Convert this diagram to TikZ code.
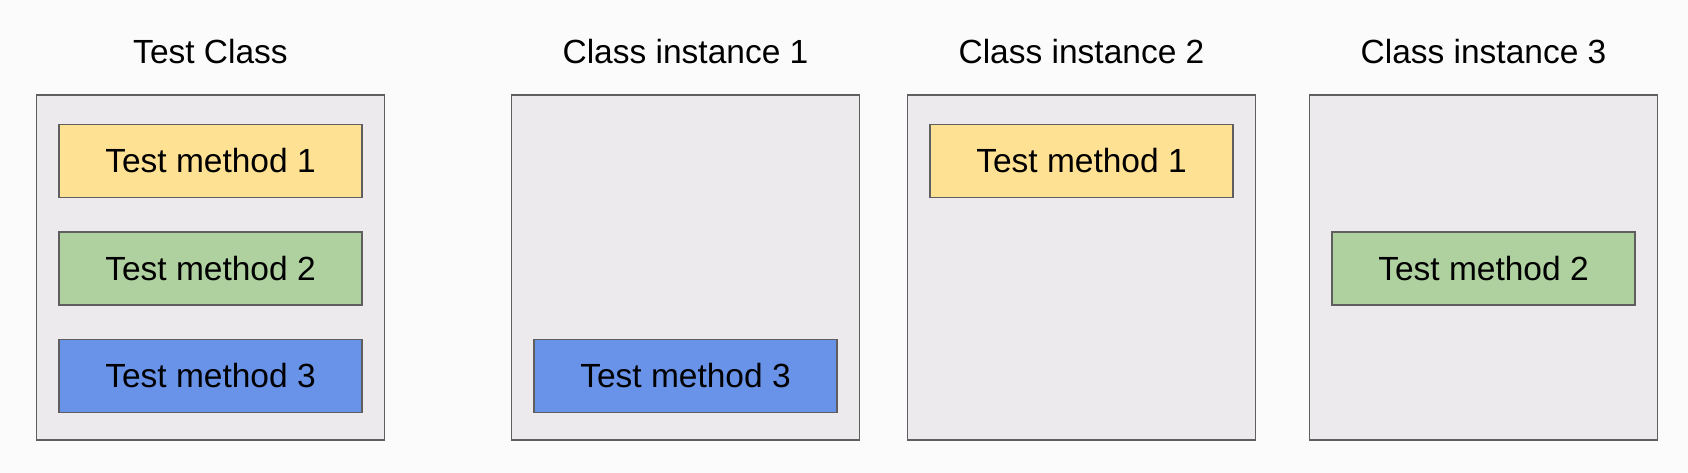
\documentclass[tikz,border=0pt]{standalone}
\usepackage{fontspec}
\setmainfont{Liberation Sans}
\definecolor{bgc}{HTML}{FBFBFB}
\definecolor{panelc}{HTML}{ECEAED}
\definecolor{edgec}{HTML}{5F5F5F}
\definecolor{yel}{HTML}{FFE194}
\definecolor{grn}{HTML}{AFD09F}
\definecolor{blu}{HTML}{6993E8}
\tikzset{
  panel/.style={draw=edgec, fill=panelc, line width=1.6pt, minimum width=348pt, minimum height=345pt, inner sep=0pt},
  meth/.style={draw=edgec, line width=1.6pt, minimum width=303pt, minimum height=73pt, inner sep=0pt, font=\fontsize{33.5}{40}\selectfont, text=black},
  ttl/.style={font=\fontsize{33.5}{40}\selectfont, text=black, anchor=base, inner sep=0pt}
}
\begin{document}
\begin{tikzpicture}[x=1pt,y=-1pt]
\path[fill=bgc, use as bounding box] (0,0) rectangle (1688,473);
% panels
\node[panel] (tc) at (210.5,267.5) {};
\node[panel] (ca) at (685.5,267.5) {};
\node[panel] (cb) at (1081.5,267.5) {};
\node[panel] (cc) at (1483.5,267.5) {};
% titles
\node[ttl] (ttc) at (210.5,63.5) {Test Class};
\node[ttl] (tca) at (685.5,63.5) {Class instance 1};
\node[ttl] (tcb) at (1081.5,63.5) {Class instance 2};
\node[ttl] (tcc) at (1483.5,63.5) {Class instance 3};
% methods
\node[meth, fill=yel] (tm1) at (210.5,161) {Test method 1};
\node[meth, fill=grn] (tm2) at (210.5,268.5) {Test method 2};
\node[meth, fill=blu] (tm3) at (210.5,376) {Test method 3};
\node[meth, fill=blu] (am3) at (685.5,376) {Test method 3};
\node[meth, fill=yel] (bm1) at (1081.5,161) {Test method 1};
\node[meth, fill=grn] (cm2) at (1483.5,268.5) {Test method 2};
\end{tikzpicture}
\end{document}
